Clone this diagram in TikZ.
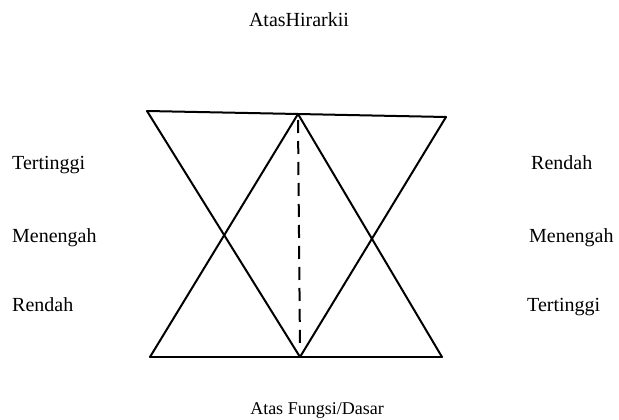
\documentclass[tikz,border=0pt]{standalone}
\usepackage{fontspec}
\setmainfont{Liberation Serif}
\begin{document}
\begin{tikzpicture}[x=1pt,y=-1pt,
  edge/.style={line width=2pt,line join=round,line cap=round},
  dashline/.style={line width=2pt,dash pattern=on 13pt off 8pt},
  lbl/.style={anchor=mid west,inner sep=0pt,font=\fontsize{20}{24}\selectfont},
  ttl/.style={anchor=center,inner sep=0pt}]
\useasboundingbox (0,0) rectangle (619,420);
\coordinate (TL) at (147,111);
\coordinate (TM) at (298,114);
\coordinate (TR) at (446,117);
\coordinate (BL) at (150,357);
\coordinate (BM) at (300,357);
\coordinate (BR) at (442,357);
\draw[edge] (TL) -- (TM) -- (TR);
\draw[edge] (BL) -- (BM) -- (BR);
\draw[edge] (TL) -- (BM);
\draw[edge] (TM) -- (BL);
\draw[edge] (TM) -- (BR);
\draw[edge] (TR) -- (BM);
\draw[dashline] ([yshift=-6pt]TM) -- ([yshift=8pt]BM);
\node[ttl,font=\fontsize{20}{24}\selectfont] (top) at (299,20) {AtasHirarkii};
\node[ttl,font=\fontsize{18}{22}\selectfont] (bot) at (317,410) {Atas Fungsi/Dasar};
\node[lbl] (l1) at (12,167) {Tertinggi};
\node[lbl] (l2) at (12,240) {Menengah};
\node[lbl] (l3) at (12,309) {Rendah};
\node[lbl] (r1) at (531,167) {Rendah};
\node[lbl] (r2) at (529,240) {Menengah};
\node[lbl] (r3) at (527,309) {Tertinggi};
\end{tikzpicture}
\end{document}
